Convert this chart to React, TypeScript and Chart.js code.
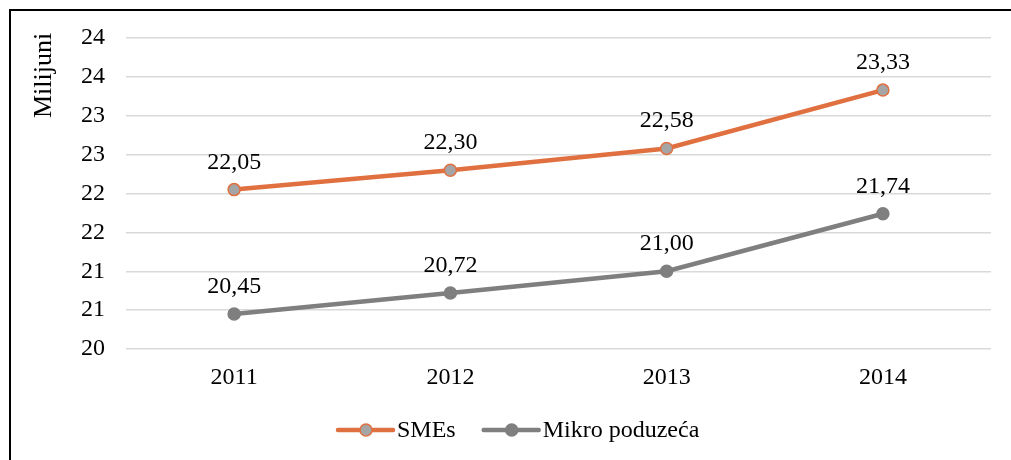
import React, { useEffect, useRef } from "react";
import { Chart, registerables } from "chart.js";

Chart.register(...registerables);

const years = ["2011", "2012", "2013", "2014"];
const smes = [22.05, 22.3, 22.58, 23.33];
const mikro = [20.45, 20.72, 21.0, 21.74];
const seriesNames = ["SMEs", "Mikro poduzeća"];
const yTitle = "Milijuni";

const ORANGE = "#E0703F";
const GREY = "#7F7F7F";
const MARK_FILL = "#A5A5A5";
const FONT = "'Liberation Serif', 'Times New Roman', serif";
const FS = 24;
const TITLE_FS = 26;

const fmt = (v: number) => v.toFixed(2).replace(".", ",");

const extrasPlugin = {
  id: "extras",
  afterDatasetsDraw(chart: any) {
    const ctx = chart.ctx;
    ctx.save();
    ctx.font = `${FS}px ${FONT}`;
    ctx.fillStyle = "#000";
    ctx.textAlign = "center";
    ctx.textBaseline = "alphabetic";
    chart.data.datasets.forEach((ds: any, i: number) => {
      const meta = chart.getDatasetMeta(i);
      meta.data.forEach((pt: any, j: number) => {
        ctx.fillText(fmt(ds.data[j]), pt.x, pt.y - 21);
      });
    });
    // y title
    ctx.save();
    ctx.font = `${TITLE_FS}px ${FONT}`;
    ctx.translate(51, 75.5);
    ctx.rotate(-Math.PI / 2);
    ctx.textAlign = "center";
    ctx.fillText(yTitle, 0, 0);
    ctx.restore();
    // legend
    const items = [
      { name: seriesNames[0], line: ORANGE, fill: MARK_FILL, border: ORANGE },
      { name: seriesNames[1], line: GREY, fill: GREY, border: GREY },
    ];
    const ly = 430;
    let x = 338;
    ctx.font = `${FS}px ${FONT}`;
    ctx.textAlign = "left";
    ctx.textBaseline = "middle";
    items.forEach((it) => {
      ctx.strokeStyle = it.line;
      ctx.lineWidth = 4.5;
      ctx.lineCap = "round";
      ctx.beginPath();
      ctx.moveTo(x, ly);
      ctx.lineTo(x + 55, ly);
      ctx.stroke();
      ctx.beginPath();
      ctx.arc(x + 28, ly, 6, 0, Math.PI * 2);
      ctx.fillStyle = it.fill;
      ctx.fill();
      ctx.lineWidth = 1.5;
      ctx.strokeStyle = it.border;
      ctx.stroke();
      ctx.fillStyle = "#000";
      ctx.fillText(it.name, x + 59, ly + 1);
      x += 59 + ctx.measureText(it.name).width + 28;
    });
    ctx.restore();
  },
};

export default function App() {
  const ref = useRef<HTMLCanvasElement>(null);
  useEffect(() => {
    if (!ref.current) return;
    const chart = new Chart(ref.current, {
      type: "line",
      data: {
        labels: years,
        datasets: [
          {
            label: seriesNames[0],
            data: smes,
            borderColor: ORANGE,
            borderWidth: 4.5,
            pointRadius: 6,
            pointBackgroundColor: MARK_FILL,
            pointBorderColor: ORANGE,
            pointBorderWidth: 1.5,
            tension: 0,
          },
          {
            label: seriesNames[1],
            data: mikro,
            borderColor: GREY,
            borderWidth: 4.5,
            pointRadius: 6,
            pointBackgroundColor: GREY,
            pointBorderColor: GREY,
            pointBorderWidth: 1.5,
            tension: 0,
          },
        ],
      },
      options: {
        animation: false,
        responsive: false,
        devicePixelRatio: 1,
        layout: { padding: { top: 38, right: 20, bottom: 60, left: 0 } },
        plugins: { legend: { display: false }, tooltip: { enabled: false } },
        scales: {
          x: {
            offset: true,
            grid: { display: false, drawTicks: false },
            border: { display: false },
            ticks: { color: "#000", font: { family: FONT, size: FS }, padding: 14 },
            afterFit: (s: any) => { s.height = 51; },
          },
          y: {
            min: 20,
            max: 24,
            grid: { color: "#D9D9D9", lineWidth: 1.5, drawTicks: false },
            border: { display: false },
            ticks: {
              stepSize: 0.5,
              color: "#000",
              font: { family: FONT, size: FS },
              padding: 21,
              callback: (v: any) => String(Math.round(Number(v))),
            },
            afterFit: (s: any) => { s.width = 126; },
          },
        },
      },
      plugins: [extrasPlugin],
    });
    return () => chart.destroy();
  }, []);
  return (
    <div style={{ position: "fixed", left: 0, top: 0, width: 1011, height: 460, background: "#fff" }}>
      <canvas ref={ref} width={1011} height={460} style={{ position: "absolute", left: 0, top: 0 }} />
      <div
        style={{
          position: "absolute",
          left: 9,
          top: 9,
          right: 0,
          bottom: 0,
          borderTop: "2px solid #000",
          borderLeft: "2px solid #000",
          pointerEvents: "none",
        }}
      />
    </div>
  );
}
